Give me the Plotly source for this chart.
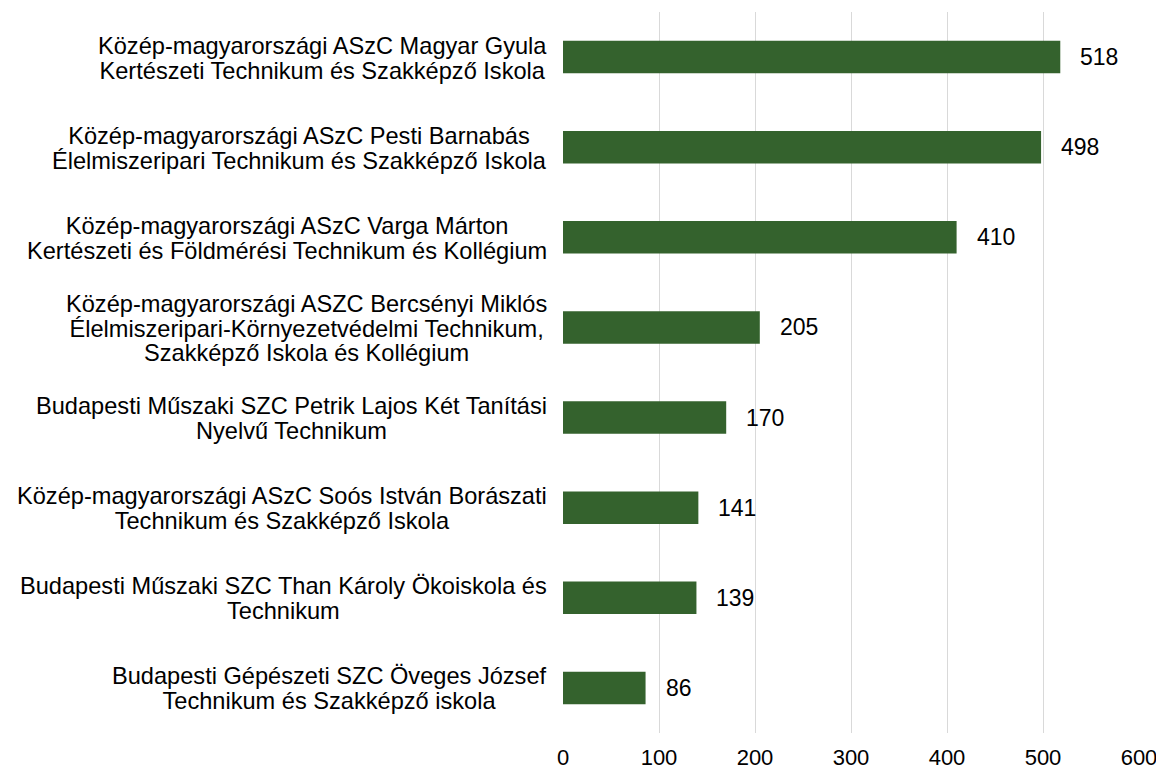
import plotly.graph_objects as go

label_lines = [
    ["Közép-magyarországi ASzC Magyar Gyula", "Kertészeti Technikum és Szakképző Iskola"],
    ["Közép-magyarországi ASzC Pesti Barnabás", "Élelmiszeripari Technikum és Szakképző Iskola"],
    ["Közép-magyarországi ASzC Varga Márton", "Kertészeti és Földmérési Technikum és Kollégium"],
    ["Közép-magyarországi ASZC Bercsényi Miklós", "Élelmiszeripari-Környezetvédelmi Technikum,",
     "Szakképző Iskola és Kollégium"],
    ["Budapesti Műszaki SZC Petrik Lajos Két Tanítási", "Nyelvű Technikum"],
    ["Közép-magyarországi ASzC Soós István Borászati", "Technikum és Szakképző Iskola"],
    ["Budapesti Műszaki SZC Than Károly Ökoiskola és", "Technikum"],
    ["Budapesti Gépészeti SZC Öveges József", "Technikum és Szakképző iskola"],
]
values = [518, 498, 410, 205, 170, 141, 139, 86]
x_ticks = [0, 100, 200, 300, 400, 500, 600]

labels = [" ".join(l) for l in label_lines]

FONT = "Liberation Sans, Arial, sans-serif"
LABEL_FS = 23.6
LINE_FS = 19  # controls line spacing of multi-line labels
VAL_FS = 23
TICK_FS = 22
GREEN = "#34622D"

fig = go.Figure(go.Bar(
    y=labels, x=values, orientation="h",
    marker=dict(color=GREEN, line=dict(width=0)),
    width=0.36, hoverinfo="x",
))

ann = []
for lines, lab, v in zip(label_lines, labels, values):
    txt = "<br>".join(f"<span style='font-size:{LABEL_FS}px'>{s}</span>" for s in lines)
    ann.append(dict(x=0, xref="paper", y=lab, yref="y", text=txt, showarrow=False,
                    xanchor="right", align="center", xshift=-14, yshift=-1,
                    font=dict(family=FONT, size=LINE_FS, color="#000000")))
    ann.append(dict(x=v, xref="x", y=lab, yref="y", text=str(v), showarrow=False,
                    xanchor="left", xshift=18,
                    font=dict(family=FONT, size=VAL_FS, color="#000000")))

# page body has an 8px margin, so figure is shrunk by 8px and margins shifted
fig.update_layout(
    width=1156, height=766,
    margin=dict(l=555, r=25, t=4, b=41),
    paper_bgcolor="white", plot_bgcolor="white",
    showlegend=False,
    font=dict(family=FONT, size=TICK_FS, color="#000000"),
    annotations=ann,
)
fig.update_xaxes(range=[0, 600], tickvals=x_ticks, showgrid=True, gridcolor="#D9D9D9",
                 gridwidth=1.3, zeroline=False, showline=False, ticks="",
                 ticklabelstandoff=9, automargin=False,
                 tickfont=dict(family=FONT, size=TICK_FS, color="#000000"))
fig.update_yaxes(autorange="reversed", showticklabels=False, showgrid=False,
                 zeroline=False, showline=False, ticks="", automargin=False)

fig.write_html("out.html")
